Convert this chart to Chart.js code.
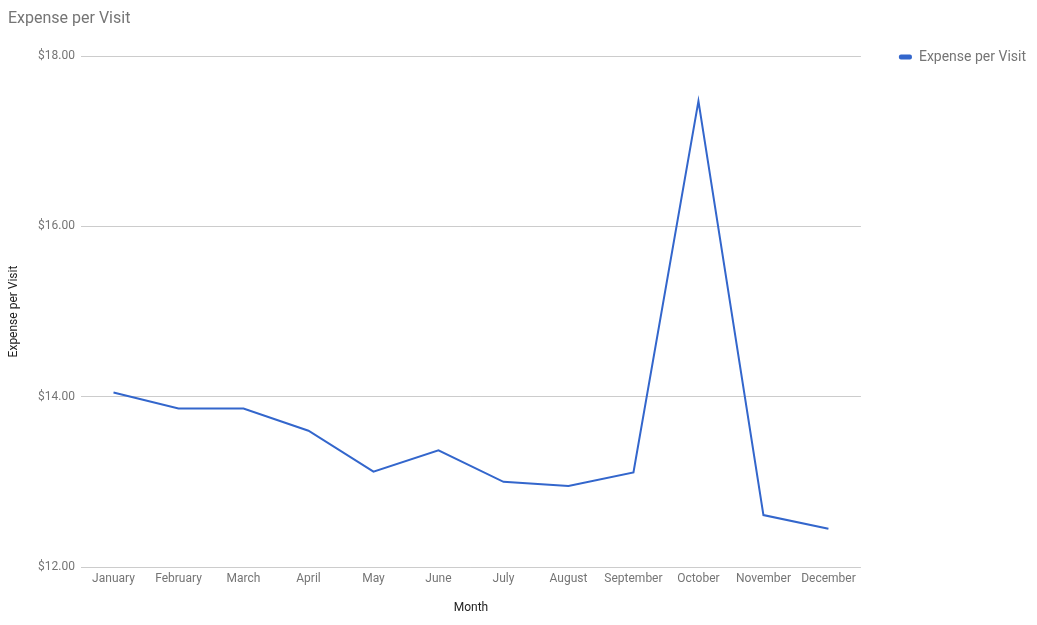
<!DOCTYPE html>
<html>
<head>
<meta charset="utf-8">
<script src="https://cdn.jsdelivr.net/npm/chart.js@4/dist/chart.umd.min.js"></script>
<style>
  html, body { margin: 0; padding: 0; background: #ffffff; }
  #wrap { width: 1037px; height: 625px; position: relative; }
</style>
</head>
<body>
<div id="wrap"><canvas id="c" width="1037" height="625"></canvas></div>
<script>
const chartTitle = 'Expense per Visit';
const seriesName = 'Expense per Visit';
const xAxisTitle = 'Month';
const yAxisTitle = 'Expense per Visit';
const months = ['January', 'February', 'March', 'April', 'May', 'June', 'July', 'August', 'September', 'October', 'November', 'December'];
const expensePerVisit = [14.05, 13.86, 13.86, 13.60, 13.12, 13.37, 13.00, 12.95, 13.11, 17.47, 12.61, 12.45];
const yTickValues = [12, 14, 16, 18];

const FONT = 'Roboto';

new Chart(document.getElementById('c'), {
  type: 'line',
  data: {
    labels: months,
    datasets: [{
      label: seriesName,
      data: expensePerVisit,
      borderColor: '#3366cc',
      backgroundColor: '#3366cc',
      borderWidth: 2,
      pointRadius: 0,
      pointHoverRadius: 0,
      tension: 0,
      fill: false
    }]
  },
  options: {
    responsive: false,
    animation: false,
    layout: { padding: { left: 8, top: 12, right: 1, bottom: 0 } },
    plugins: {
      tooltip: { enabled: false },
      title: {
        display: true,
        text: chartTitle,
        align: 'start',
        color: '#757575',
        font: { family: FONT, size: 16, weight: 'normal', lineHeight: 1.2 },
        padding: { top: -2.5, bottom: 27.3 }
      },
      legend: {
        display: true,
        position: 'right',
        align: 'start',
        labels: {
          boxWidth: 13,
          boxHeight: 5,
          padding: 38,
          color: '#757575',
          font: { family: FONT, size: 14 },
          useBorderRadius: true,
          borderRadius: 2,
          generateLabels: (chart) =>
            Chart.defaults.plugins.legend.labels.generateLabels(chart).map(l => Object.assign(l, { lineWidth: 0 }))
        }
      }
    },
    scales: {
      x: {
        offset: true,
        grid: { display: false, drawTicks: false },
        border: { display: false },
        ticks: {
          color: '#757575',
          font: { family: FONT, size: 12 },
          padding: 5,
          maxRotation: 0,
          autoSkip: false
        },
        title: {
          display: true,
          text: xAxisTitle,
          color: '#222222',
          font: { family: FONT, size: 12, lineHeight: 1.2 },
          padding: { top: 0, bottom: 10 }
        },
        afterFit: (scale) => { scale.height = 58; }
      },
      y: {
        min: 12,
        max: 18,
        grid: { color: '#cccccc', lineWidth: 1, drawTicks: false },
        border: { display: false },
        afterBuildTicks: (scale) => { scale.ticks = yTickValues.map(v => ({ value: v })); },
        ticks: {
          color: '#757575',
          font: { family: FONT, size: 12 },
          padding: 6,
          callback: (v) => '$' + Number(v).toFixed(2)
        },
        title: {
          display: true,
          text: yAxisTitle,
          color: '#222222',
          font: { family: FONT, size: 12, lineHeight: 1 },
          padding: { top: 0, bottom: 0 }
        },
        afterFit: (scale) => { scale.width = 73; }
      }
    }
  }
});
</script>
</body>
</html>
